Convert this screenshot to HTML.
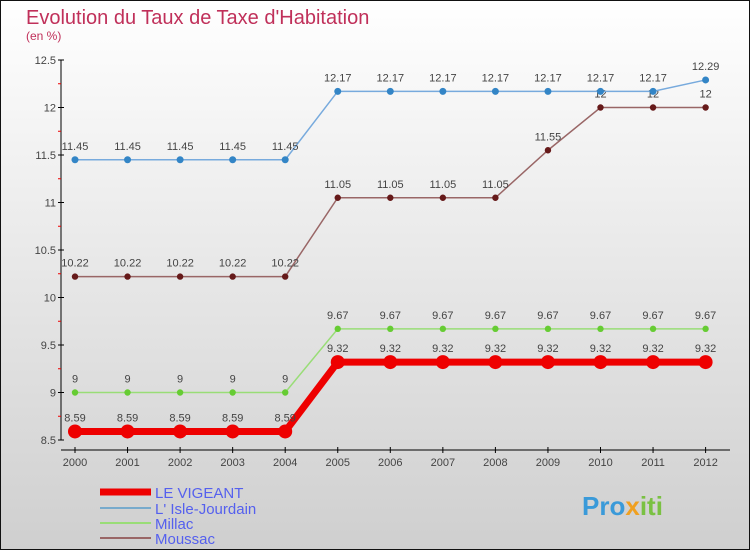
<!DOCTYPE html>
<html><head><meta charset="utf-8"><style>
body{margin:0}
svg text{font-family:"Liberation Sans",sans-serif}
</style></head><body>
<svg width="750" height="550" xmlns="http://www.w3.org/2000/svg">
<defs><linearGradient id="bg" x1="0" y1="0" x2="0" y2="1"><stop offset="0" stop-color="#ffffff"/><stop offset="1" stop-color="#cfcfcf"/></linearGradient></defs>
<rect x="0.5" y="0.5" width="749" height="549" fill="url(#bg)" stroke="#111"/>
<text x="26" y="24" font-size="20" fill="#c0305a">Evolution du Taux de Taxe d'Habitation</text>
<text x="26" y="40" font-size="12" fill="#c0305a">(en %)</text>
<g id="axes"></g><g id="series"></g>
<g font-size="15" fill="#5560ee">
<line x1="100" y1="492" x2="151" y2="492" stroke="#ee0000" stroke-width="7"/>
<text x="155" y="498">LE VIGEANT</text>
<line x1="100" y1="508" x2="151" y2="508" stroke="#77aacc" stroke-width="2"/>
<text x="155" y="514">L' Isle-Jourdain</text>
<line x1="100" y1="523" x2="151" y2="523" stroke="#99dd77" stroke-width="2"/>
<text x="155" y="529">Millac</text>
<line x1="100" y1="538" x2="151" y2="538" stroke="#996666" stroke-width="2"/>
<text x="155" y="544">Moussac</text>
</g>
<text x="582" y="515" font-size="26" font-weight="bold" fill="#3a9ad9">Pro<tspan fill="#f0a020">x</tspan><tspan fill="#7ac143">iti</tspan></text>
</svg>
<script>
const years=[2000,2001,2002,2003,2004,2005,2006,2007,2008,2009,2010,2011,2012];
const yTicks=[8.5,9,9.5,10,10.5,11,11.5,12,12.5];
const vigeant=[8.59,8.59,8.59,8.59,8.59,9.32,9.32,9.32,9.32,9.32,9.32,9.32,9.32];
const isle=[11.45,11.45,11.45,11.45,11.45,12.17,12.17,12.17,12.17,12.17,12.17,12.17,12.29];
const millac=[9,9,9,9,9,9.67,9.67,9.67,9.67,9.67,9.67,9.67,9.67];
const moussac=[10.22,10.22,10.22,10.22,10.22,11.05,11.05,11.05,11.05,11.55,12,12,12];
const NS="http://www.w3.org/2000/svg";
const xs=i=>75+i*52.55;
const ys=v=>440-(v-8.5)*95;
function mk(t,a,p){const e=document.createElementNS(NS,t);for(const k in a)e.setAttribute(k,a[k]);p.appendChild(e);return e;}
const ax=document.getElementById('axes');
const yl=mk('line',{x1:61,y1:60,x2:61,y2:440,stroke:'#000'},ax);


const xl=mk('line',{x1:61,y1:450,x2:730,y2:450,stroke:'#000'},ax);


yTicks.forEach((v,i)=>{
 mk('line',{x1:58,y1:ys(v),x2:64,y2:ys(v),stroke:'#000'},ax);
 if(i<yTicks.length-1)mk('line',{x1:58,y1:ys(v+0.25),x2:61,y2:ys(v+0.25),stroke:'#e00'},ax);
 const t=mk('text',{x:56,y:ys(v)+4,'font-size':11,fill:'#444','text-anchor':'end'},ax);
 t.textContent=String(v);
 
 
});
years.forEach((y,i)=>{
 mk('line',{x1:xs(i),y1:447,x2:xs(i),y2:453,stroke:'#000'},ax);
 const t=mk('text',{x:xs(i),y:466,'font-size':11,fill:'#444','text-anchor':'middle'},ax);
 t.textContent=String(y);
 
 
});
const sg=document.getElementById('series');
function draw(vals,name,color,w,r,dot){
 const g=mk('g',{},sg);
 
 
 const p=mk('polyline',{points:vals.map((v,i)=>xs(i)+','+ys(v)).join(' '),fill:'none',stroke:color,'stroke-width':w},g);
 
 
 vals.forEach((v,i)=>{
  const c=mk('circle',{cx:xs(i),cy:ys(v),r:r,fill:dot},g);
  
  
  const t=mk('text',{x:xs(i),y:ys(v)-10,'font-size':11,fill:'#444','text-anchor':'middle'},g);
  t.textContent=String(v);
  
  
 });
}
draw(moussac,'moussac','#996666',1.5,3.2,'#661a1a');
draw(millac,'millac','#99dd77',1.5,3.2,'#66cc33');
draw(isle,'isle-jourdain','#77aadd',1.5,3.5,'#3385c6');
draw(vigeant,'le-vigeant','#ee0000',7,7,'#ee0000');
</script>
</body></html>
